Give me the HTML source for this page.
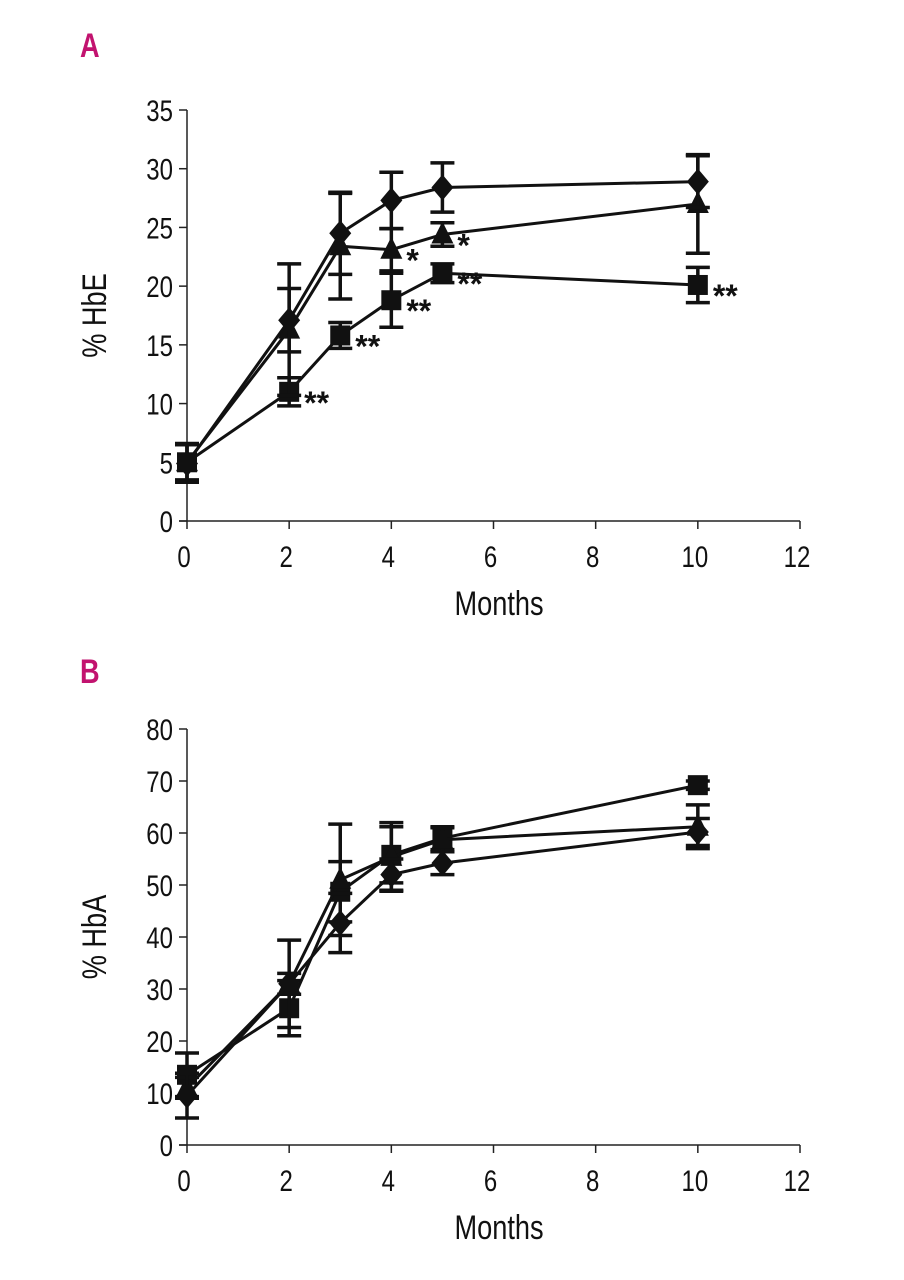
<!DOCTYPE html>
<html><head><meta charset="utf-8"><style>
html,body{margin:0;padding:0;background:#fff;}
svg{display:block;}
text{font-family:"Liberation Sans",sans-serif;fill:#111;}
</style></head><body>
<svg id="fig" width="904" height="1280" viewBox="0 0 904 1280"></svg>
<script>
const months = [0, 2, 3, 4, 5, 10];
const xTicks = [0, 2, 4, 6, 8, 10, 12];
const yTicksA = [0, 5, 10, 15, 20, 25, 30, 35];
const yTicksB = [0, 10, 20, 30, 40, 50, 60, 70, 80];
// Panel A: %HbE
const hbeDiamond = [4.9, 17.1, 24.5, 27.3, 28.4, 28.9];
const hbeDiamondErr = [1.6, 2.7, 3.5, 2.4, 2.1, 2.2];
const hbeTriangle = [5.0, 16.3, 23.4, 23.1, 24.4, 27.0];
const hbeTriangleErr = [1.6, 5.6, 4.5, 1.8, 1.0, 4.2];
const hbeSquare = [5.0, 11.0, 15.8, 18.8, 21.1, 20.1];
const hbeSquareErr = [1.5, 1.2, 1.1, 2.3, 0.8, 1.5];
const hbeStars = ["", "**", "**", "**", "**", "**"];
const hbeTriStars = ["", "", "", "*", "*", ""];
// Panel B: %HbA
const hbaDiamond = [9.5, 31, 42.7, 52, 54.2, 60.2];
const hbaDiamondErr = [4.3, 2, 5.7, 3, 2.2, 2.6];
const hbaTriangle = [11, 31, 51, 55.4, 58.7, 61.2];
const hbaTriangleErr = [2, 8.4, 10.7, 6.6, 2.3, 4.2];
const hbaSquare = [13.5, 26.3, 48.7, 55.8, 59, 69.2];
const hbaSquareErr = [4.2, 5.3, 5.8, 5.4, 2.2, 0.8];

const NS = "http://www.w3.org/2000/svg";
const svg = document.getElementById("fig");
function el(tag, attrs, parent) {
  const e = document.createElementNS(NS, tag);
  for (const k in attrs) e.setAttribute(k, attrs[k]);
  (parent || svg).appendChild(e);
  return e;
}
function panel(cfg) {
  const g = el("g", {});
  
  
  const X0 = 187, X1 = 800;
  const xs = v => X0 + (X1 - X0) * v / 12;
  const ys = v => cfg.y0 - (cfg.y0 - cfg.yTop) * v / cfg.yMax;
  const ya = el("line", {x1: X0, y1: cfg.y0, x2: X0, y2: cfg.yTop, stroke: "#222", "stroke-width": 1.5}, g);
  
  
  const xa = el("line", {x1: X0 - 8, y1: cfg.y0, x2: X1, y2: cfg.y0, stroke: "#222", "stroke-width": 1.5}, g);
  
  
  cfg.yTicks.forEach(v => {
    el("line", {x1: X0 - 8, y1: ys(v), x2: X0, y2: ys(v), stroke: "#222", "stroke-width": 1.5}, g);
    const t = el("text", {x: 0, y: 0, "text-anchor": "end", "font-size": 30, transform: `translate(${X0 - 14},${ys(v) + 11}) scale(0.8,1)`}, g);
    t.textContent = v;
    
    
  });
  xTicks.forEach(v => {
    el("line", {x1: xs(v), y1: cfg.y0, x2: xs(v), y2: cfg.y0 + 8, stroke: "#222", "stroke-width": 1.5}, g);
    const t = el("text", {x: 0, y: 0, "text-anchor": "middle", "font-size": 30, transform: `translate(${xs(v) - 3},${cfg.y0 + 46}) scale(0.8,1)`}, g);
    t.textContent = v;
    
    
  });
  const xt = el("text", {x: 0, y: 0, "text-anchor": "middle", "font-size": 34, transform: `translate(499,${cfg.y0 + 94}) scale(0.8,1)`}, g);
  xt.textContent = "Months";
  
  
  const yt = el("text", {x: 0, y: 0, "text-anchor": "middle", "font-size": 34, transform: `translate(106,${(cfg.y0 + cfg.yTop) / 2}) rotate(-90) scale(0.8,1)`}, g);
  yt.textContent = cfg.yTitle;
  
  
  const lab = el("text", {x: 0, y: 0, "font-size": 34, "font-weight": "bold", style: "fill:#c2136f", transform: `translate(80,${cfg.labelY}) scale(0.8,1)`}, g);
  lab.textContent = cfg.label;
  
  
  cfg.series.forEach(s => {
    const sg = el("g", {}, g);
    
    
    s.vals.forEach((v, i) => {
      const x = xs(months[i]), e = s.err[i];
      const up = ys(v + e), dn = ys(v - e);
      el("line", {x1: x, y1: up, x2: x, y2: dn, stroke: "#111", "stroke-width": 3.5}, sg);
      el("line", {x1: x - 12, y1: up, x2: x + 12, y2: up, stroke: "#111", "stroke-width": 3.5}, sg);
      el("line", {x1: x - 12, y1: dn, x2: x + 12, y2: dn, stroke: "#111", "stroke-width": 3.5}, sg);
    });
    const pts = s.vals.map((v, i) => xs(months[i]) + "," + ys(v)).join(" ");
    const pl = el("polyline", {points: pts, fill: "none", stroke: "#111", "stroke-width": 3}, sg);
    
    
    s.vals.forEach((v, i) => {
      const x = xs(months[i]), y = ys(v);
      let m;
      if (s.shape === "diamond") m = el("polygon", {points: `${x},${y - 13} ${x + 11},${y} ${x},${y + 13} ${x - 11},${y}`, fill: "#111"}, sg);
      else if (s.shape === "triangle") m = el("polygon", {points: `${x},${y - 13} ${x + 11},${y + 9} ${x - 11},${y + 9}`, fill: "#111"}, sg);
      else m = el("rect", {x: x - 10, y: y - 10, width: 20, height: 20, fill: "#111"}, sg);
      
      
      if (s.stars && s.stars[i]) {
        const st = el("text", {x: x + 15, y: y + 22, "font-size": 32, "font-weight": "bold"}, sg);
        st.textContent = s.stars[i];
        
        
      }
    });
  });
}
panel({name: "panel-a-hbe", y0: 521, yTop: 110, yMax: 35, yTicks: yTicksA, yTitle: "% HbE", label: "A", labelY: 57,
  series: [
    {name: "series-square", shape: "square", vals: hbeSquare, err: hbeSquareErr, stars: hbeStars},
    {name: "series-triangle", shape: "triangle", vals: hbeTriangle, err: hbeTriangleErr, stars: hbeTriStars},
    {name: "series-diamond", shape: "diamond", vals: hbeDiamond, err: hbeDiamondErr}
  ]});
panel({name: "panel-b-hba", y0: 1145, yTop: 729, yMax: 80, yTicks: yTicksB, yTitle: "% HbA", label: "B", labelY: 683,
  series: [
    {name: "series-square", shape: "square", vals: hbaSquare, err: hbaSquareErr},
    {name: "series-triangle", shape: "triangle", vals: hbaTriangle, err: hbaTriangleErr},
    {name: "series-diamond", shape: "diamond", vals: hbaDiamond, err: hbaDiamondErr}
  ]});
</script>
</body></html>
